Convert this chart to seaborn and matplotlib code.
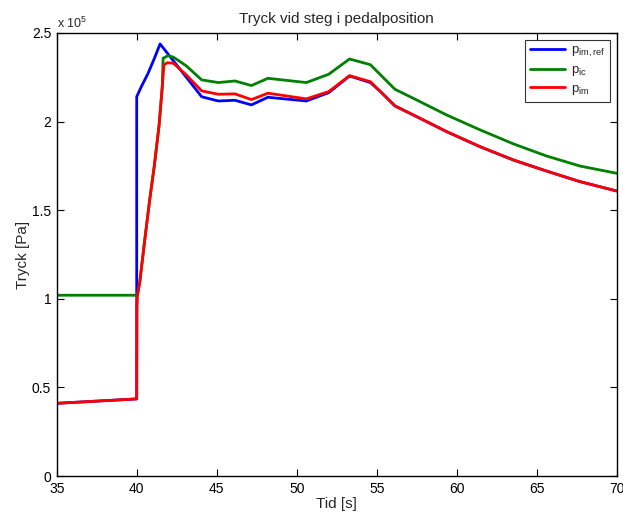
import numpy as np
import pandas as pd
import matplotlib
matplotlib.use("Agg")
import matplotlib.pyplot as plt
from matplotlib.ticker import FuncFormatter
import seaborn as sns

# ---- data (pressure in units of 1e5 Pa) ----
t_ref = [35, 40, 40, 40.29, 40.7, 41.12, 41.46, 44.06, 45.1, 46.14, 47.17, 48.2,
         50.6, 52.0, 53.3, 54.6, 55.2, 56.14, 57.29, 59.37, 61.46, 63.54, 65.6, 67.7, 70]
p_ref = [0.41, 0.435, 2.14, 2.197, 2.27, 2.36, 2.438, 2.14, 2.116, 2.12, 2.094, 2.137,
         2.116, 2.163, 2.257, 2.22, 2.172, 2.088, 2.037, 1.943, 1.858, 1.783, 1.721, 1.661, 1.608]

t_ic = [35, 40, 40.05, 40.2, 40.5, 40.8, 41.1, 41.4, 41.6, 41.65, 41.96, 42.3, 43.1,
        44.06, 45.1, 46.14, 47.17, 48.2, 50.6, 52.0, 53.3, 54.6, 56.14, 57.29, 59.37,
        61.46, 63.54, 65.6, 67.7, 70]
p_ic = [1.02, 1.02, 1.02, 1.1, 1.33, 1.55, 1.75, 1.98, 2.2, 2.357, 2.372, 2.363, 2.314,
        2.235, 2.22, 2.229, 2.203, 2.244, 2.22, 2.267, 2.353, 2.321, 2.182, 2.131, 2.037,
        1.953, 1.874, 1.806, 1.749, 1.708]

t_im = [35, 40, 40.02, 40.05, 40.2, 40.5, 40.8, 41.1, 41.4, 41.6, 41.7, 41.91, 42.3, 43.1,
        44.06, 45.1, 46.14, 47.17, 48.2, 50.6, 52.0, 53.3, 54.6, 55.2, 56.14, 57.29, 59.37,
        61.46, 63.54, 65.6, 67.7, 70]
p_im = [0.41, 0.435, 0.955, 1.02, 1.1, 1.33, 1.55, 1.75, 1.98, 2.2, 2.32, 2.332, 2.329, 2.263,
        2.173, 2.154, 2.156, 2.124, 2.16, 2.128, 2.169, 2.259, 2.225, 2.172, 2.088, 2.037, 1.943,
        1.858, 1.783, 1.721, 1.661, 1.608]

labels = [r"p$_{\mathrm{im,ref}}$", r"p$_{\mathrm{ic}}$", r"p$_{\mathrm{im}}$"]
colors = ["#0000ff", "#008000", "#ff0000"]
x_ticks = [35, 40, 45, 50, 55, 60, 65, 70]
y_ticks = [0, 0.5, 1, 1.5, 2, 2.5]
scale = 1e5

sns.set_style("white", {"xtick.bottom": True, "ytick.left": True,
                        "xtick.direction": "in", "ytick.direction": "in"})
plt.rcParams["font.family"] = ["Liberation Sans", "DejaVu Sans"]
plt.rcParams["mathtext.fontset"] = "custom"
plt.rcParams["mathtext.rm"] = "Liberation Sans"
plt.rcParams["mathtext.it"] = "Liberation Sans"
plt.rcParams["xtick.major.size"] = 5
plt.rcParams["ytick.major.size"] = 5

fig = plt.figure(figsize=(6.23, 5.17), dpi=100)
ax = fig.add_axes([0.091, 0.0793, 0.899, 0.857])

series = [(t_ref, p_ref), (t_ic, p_ic), (t_im, p_im)]
for (t, p), lab, c in zip(series, labels, colors):
    df = pd.DataFrame({"t": t, "p": np.array(p) * scale})
    sns.lineplot(data=df, x="t", y="p", sort=False, estimator=None, ax=ax,
                 color=c, lw=2, label=lab)

ax.set_xlim(35, 70)
ax.set_ylim(0, 2.5 * scale)
ax.set_xticks(x_ticks)
ax.set_yticks([v * scale for v in y_ticks])
ax.yaxis.set_major_formatter(FuncFormatter(lambda v, pos: f"{v/scale:g}"))
ax.tick_params(direction="in", length=5, width=0.8, labelsize=10,
               bottom=True, left=True, top=True, right=True,
               colors="black", pad=4)
for s in ax.spines.values():
    s.set_visible(True)
    s.set_color("black")
    s.set_linewidth(1.0)

ax.set_xlabel("Tid [s]", fontsize=11, labelpad=1)
ax.set_ylabel("Tryck [Pa]", fontsize=11, labelpad=1)
ax.set_title("Tryck vid steg i pedalposition", fontsize=11, pad=7)
ax.text(0.0, 1.005, r"x 10$^{5}$", transform=ax.transAxes, fontsize=9,
        ha="left", va="bottom")

leg = ax.legend(loc="upper right", fontsize=9.5, frameon=True, fancybox=False,
                edgecolor="black", handlelength=2.7, borderaxespad=0.55,
                labelspacing=0.35, borderpad=0.35, handletextpad=0.4)
leg.get_frame().set_linewidth(0.8)

fig.savefig("out.png", dpi=100)
